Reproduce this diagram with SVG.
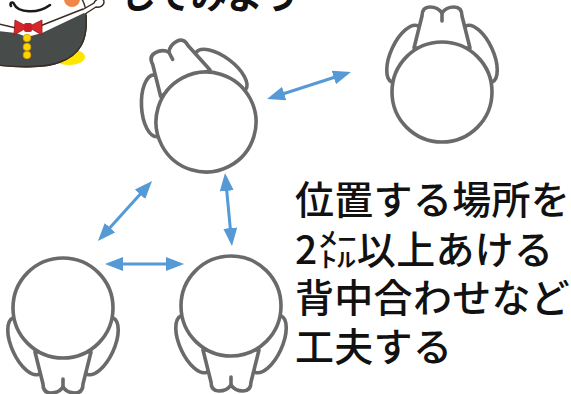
<svg xmlns="http://www.w3.org/2000/svg" width="571" height="394" viewBox="0 0 571 394">
  <defs>
    <style>
      .person path, .person circle, .person ellipse { fill:#fff; stroke:#6a6a6a; stroke-width:3.6; stroke-linejoin:round; stroke-linecap:round; }
      .person .notch { fill:none; }
      .link { stroke:#5599d5; stroke-width:3; fill:none; marker-start:url(#head); marker-end:url(#head); }
      .note { font-family:"Noto Sans CJK JP", sans-serif; font-size:39px; font-weight:500; letter-spacing:0.3px; fill:#111; }
      .title { font-family:"Noto Sans CJK JP", sans-serif; font-size:36px; font-weight:700; fill:#111; }
      .ink { stroke:#3a2b25; stroke-width:1.4; }
    </style>
    <marker id="head" viewBox="0 0 18 14" refX="13" refY="7" markerWidth="18" markerHeight="14" markerUnits="userSpaceOnUse" orient="auto-start-reverse">
      <path d="M0,0 L18,7 L0,14 Z" fill="#5599d5"/>
    </marker>
    <!-- one person seen from above, head at origin, shoulders toward -y -->
    <g id="figure" class="person">
      <ellipse cx="-37" cy="-38" rx="14" ry="31" transform="rotate(25 -37 -38)"/>
      <ellipse cx="37" cy="-38" rx="14" ry="31" transform="rotate(-25 37 -38)"/>
      <path d="M -28,-44 L -20,-76 Q -20,-85 -12,-85 Q -4,-85 0,-79 Q 4,-85 12,-85 Q 20,-85 20,-76 L 28,-44 Z"/>
      <path class="notch" d="M 0,-79 L 0,-71"/>
      <circle cx="0" cy="0" r="50"/>
    </g>
    <clipPath id="bodyClip">
      <path d="M -10,-20 C 40,-25 86,-20 86,15 C 88,40 80,55 60,62 C 45,68 15,68 -10,64 Z"/>
    </clipPath>
  </defs>

  <rect width="571" height="394" fill="#fff"/>

  <!-- mascot in the corner -->
  <g id="mascot">
    <ellipse cx="69" cy="57" rx="16" ry="8" fill="#ffe600"/>
    <ellipse cx="-2" cy="60" rx="8" ry="6" fill="#ffe600"/>
    <path class="ink" d="M -10,-20 C 40,-25 86,-20 86,15 C 88,40 80,55 60,62 C 45,68 15,68 -10,64 Z" fill="#fff"/>
    <g clip-path="url(#bodyClip)">
      <path d="M -10,30 L 16,33 L 27,37 L 42,33 L 84,13 L 100,13 L 100,80 L -10,80 Z" fill="#474c4b"/>
    </g>
    <path class="ink" d="M -10,64 C 15,68 45,68 60,62 C 80,55 88,40 86,15" fill="none"/>
    <path class="ink" d="M -10,22 L 16,28 M 40,26 L 83,9" fill="none"/>
    <path d="M 28,27 L 15,20 L 14,35 Z M 28,27 L 42,20 L 42,35 Z" fill="#d9262b" stroke="#8a1a1a" stroke-width="0.8"/>
    <rect x="24" y="23" width="8" height="9" rx="2" fill="#c81e24"/>
    <g fill="#ffd500" stroke="#d79a00" stroke-width="0.8">
      <circle cx="27" cy="38" r="3.8"/>
      <circle cx="27" cy="47" r="3.8"/>
      <circle cx="27" cy="55" r="3.8"/>
    </g>
    <path d="M 11,6 C 9,3 13,1 14,4 C 18,13 38,14 50,5" fill="none" stroke="#1a1a1a" stroke-width="2.6" stroke-linecap="round"/>
    <circle cx="72" cy="-1" r="8" fill="#f0874a"/>
    <path class="ink" d="M 82,10 L 94,3 C 96,-2 104,-3 104,2 C 104,6 99,8 96,7 L 85,14" fill="#fff"/>
  </g>

  <text class="title" x="120" y="9">してみよう</text>

  <!-- people -->
  <g id="person-top-left" transform="translate(206 122) rotate(-28)"><use href="#figure"/></g>
  <g id="person-top-right" transform="translate(442 92)"><use href="#figure"/></g>
  <g id="person-bottom-left" transform="translate(63 308) rotate(180)"><use href="#figure"/></g>
  <g id="person-bottom-right" transform="translate(231 306) rotate(180)"><use href="#figure"/></g>

  <!-- distance arrows -->
  <g id="connectors">
    <path class="link" d="M 271.8,97.5 L 346.2,73.5"/>
    <path class="link" d="M 148.7,184.7 L 101.3,237.3"/>
    <path class="link" d="M 225.5,178 L 231.5,241"/>
    <path class="link" d="M 110,264 L 179,264"/>
  </g>

  <g id="note">
    <text class="note" x="295" y="214">位置する場所を</text>
    <text class="note" x="295" y="264">2㍍以上あける</text>
    <text class="note" x="295" y="312">背中合わせなど</text>
    <text class="note" x="295" y="361">工夫する</text>
  </g>
</svg>
